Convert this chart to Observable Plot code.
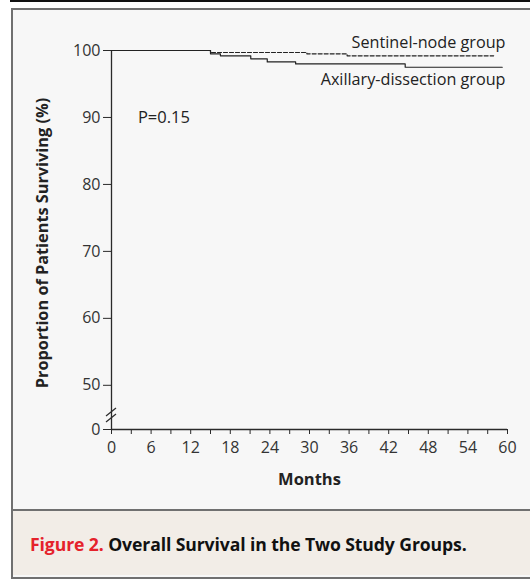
<!DOCTYPE html>
<html>
<head>
<meta charset="utf-8">
<script src="https://cdn.jsdelivr.net/npm/d3@7"></script>
<script src="https://cdn.jsdelivr.net/npm/@observablehq/plot@0.6"></script>
<style>
  html, body { margin: 0; padding: 0; background: #fff; width: 530px; height: 579px; overflow: hidden; }
  #topline { position: absolute; left: 10px; top: 0; width: 520px; height: 2px; background: #111; }
  #box { position: absolute; left: 11px; top: 8px; width: 530px; height: 567px; border: 2px solid #707070; border-right: none; background: #f7f7f7; font-family: "Open Sans", sans-serif; }
  #chart { height: 499px; }
  #caption { border-top: 2px solid #707070; background: #f2ede7; height: 66px; box-sizing: border-box; padding: 21px 0 0 17px; font-weight: bold; font-size: 17.6px; color: #111; letter-spacing: -0.1px; }
  #caption .fig { color: #e5222b; }
</style>
</head>
<body>
<div id="topline"></div>
<div id="box">
  <div id="chart"></div>
  <div id="caption"><span class="fig">Figure 2.</span> Overall Survival in the Two Study Groups.</div>
</div>
<script>
// Data
const sentinelMonths = [0, 15, 29.6, 35.7, 57.9];
const sentinelSurvival = [100, 99.7, 99.5, 99.2, 99.2];
const axillaryMonths = [0, 15, 16.5, 21.1, 23.6, 27.9, 44.5, 59.2];
const axillarySurvival = [100, 99.5, 99.2, 98.75, 98.3, 98.0, 97.5, 97.5];
const xTickMajor = [0, 6, 12, 18, 24, 30, 36, 42, 48, 54, 60];
const xTickMinor = [3, 9, 15, 21, 27, 33, 39, 45, 51, 57];
const yTicks = [100, 90, 80, 70, 60, 50];
const yZeroPos = 43.4;   // where "0" sits below the axis break
const yBreak = 45.5;
const pValueText = "P=0.15";
const seriesLabels = ["Sentinel-node group", "Axillary-dissection group"];

const sentinel = sentinelMonths.map((m, i) => ({month: m, surv: sentinelSurvival[i]}));
const axillary = axillaryMonths.map((m, i) => ({month: m, surv: axillarySurvival[i]}));

const ink = "#2a2a2a";
const chart = Plot.plot({
  width: 517,
  height: 499,
  marginLeft: 98,
  marginRight: 23,
  marginTop: 40,
  marginBottom: 80,
  style: {background: "transparent", fontFamily: "Open Sans, sans-serif", fontSize: "16px", color: "#333"},
  x: {domain: [0, 60]},
  y: {domain: [yZeroPos, 100]},
  marks: [
    Plot.axisY([...yTicks, yZeroPos], {tickSize: 8, tickPadding: 3, tickFormat: d => d < 50 ? "0" : String(d), label: null, stroke: ink, fill: "#333", fontSize: 16}),
    Plot.axisX(xTickMinor, {tickSize: 5, tickFormat: () => "", label: null, stroke: ink}),
    Plot.axisX(xTickMajor, {tickSize: 5, tickPadding: 7, label: null, stroke: ink, fill: "#333", fontSize: 16}),
    Plot.ruleX([0], {y1: yZeroPos, y2: 100, stroke: ink, strokeWidth: 1.3}),
    Plot.ruleY([yZeroPos], {x1: 0, x2: 60, stroke: ink, strokeWidth: 1.3}),
    Plot.line(sentinel, {x: "month", y: "surv", curve: "step-after", stroke: "#222", strokeWidth: 1.2, strokeDasharray: "4,2"}),
    Plot.line(axillary, {x: "month", y: "surv", curve: "step-after", stroke: "#222", strokeWidth: 1.2}),
    Plot.text([seriesLabels[0]], {x: 59.7, y: 100, dy: -8, textAnchor: "end", fontSize: 16.2, fill: "#222"}),
    Plot.text([seriesLabels[1]], {x: 59.7, y: 97.5, dy: 13, textAnchor: "end", fontSize: 16.2, fill: "#222"}),
    Plot.text([pValueText], {x: 4, y: 90, textAnchor: "start", fontSize: 16.5, fill: "#222"}),
    Plot.text(["Proportion of Patients Surviving (%)"], {frameAnchor: "left", textAnchor: "middle", rotate: -90, dx: -69, dy: 3, fontSize: 16.3, fontWeight: "bold", fill: "#222"}),
    Plot.text(["Months"], {frameAnchor: "bottom", dy: 55, fontSize: 16.5, fontWeight: "bold", fill: "#222"})
  ]
});
document.getElementById("chart").appendChild(chart);

// axis break marks drawn through the scales
const sx = chart.scale("x"), sy = chart.scale("y");
const bx = sx.apply(0), by = sy.apply(yBreak);
const g = d3.select(chart).append("g").attr("stroke", ink).attr("stroke-width", 1.2);
[-3, 3].forEach(off => {
  g.append("line")
    .attr("x1", bx - 5).attr("y1", by + off + 4)
    .attr("x2", bx + 5).attr("y2", by + off - 4);
});
</script>
</body>
</html>
